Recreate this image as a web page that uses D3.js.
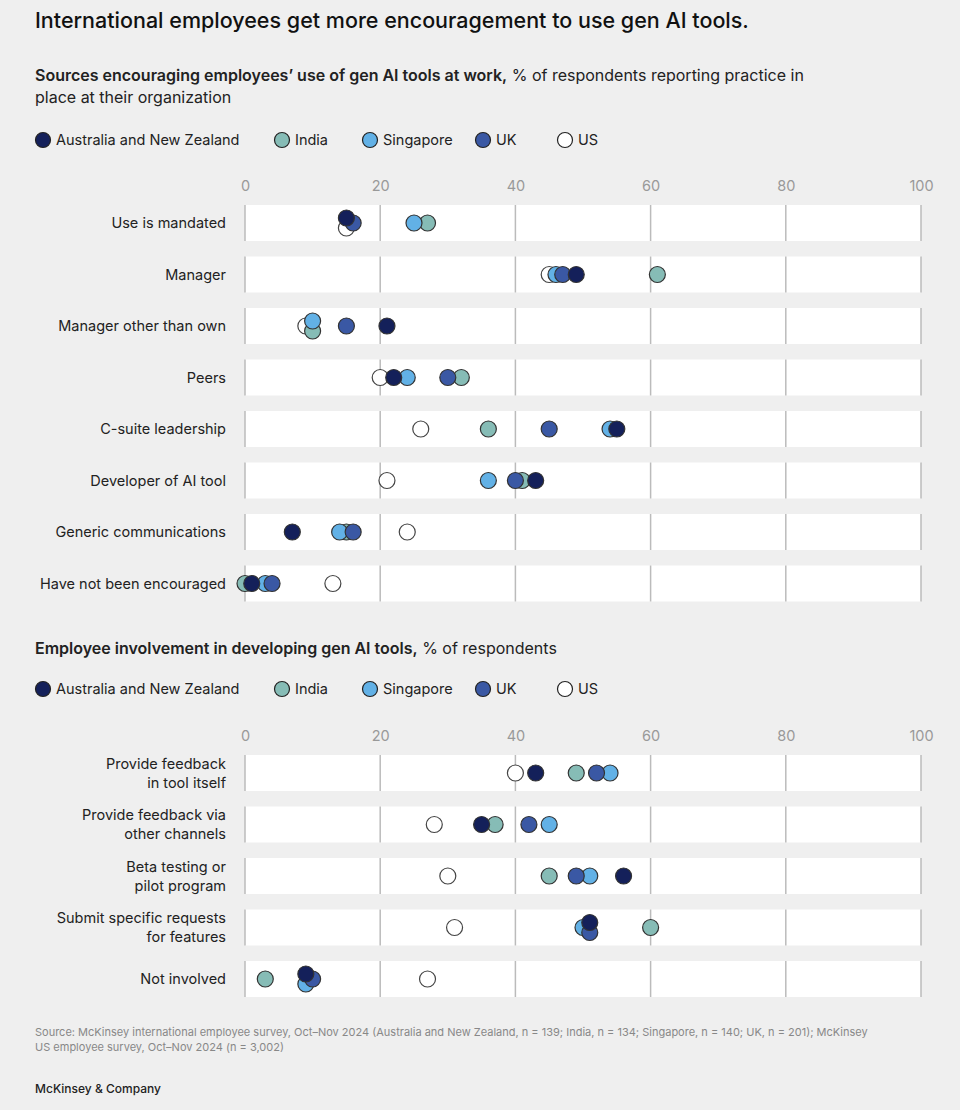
<!DOCTYPE html>
<html><head><meta charset="utf-8">
<script src="https://cdn.jsdelivr.net/npm/d3@7"></script>
<style>body{margin:0;background:#efefef;font-family:Inter,"Noto Sans",sans-serif;}</style>
</head><body>
<script>
//Series and colours
var series = ['Australia and New Zealand', 'India', 'Singapore', 'UK', 'US'];
var colors = ['#14205a', '#86bcb6', '#62b1e6', '#3a58a4', '#ffffff'];
var ticks = [0, 20, 40, 60, 80, 100];

//Chart 1 data (values per series in the order above)
var cats1 = ['Use is mandated', 'Manager', 'Manager other than own', 'Peers', 'C-suite leadership',
  'Developer of AI tool', 'Generic communications', 'Have not been encouraged'];
var anz1 = [15, 49, 21, 22, 55, 43, 7, 1];
var india1 = [27, 61, 10, 32, 36, 41, 15, 0];
var sg1 = [25, 46, 10, 24, 54, 36, 14, 3];
var uk1 = [16, 47, 15, 30, 45, 40, 16, 4];
var us1 = [15, 45, 9, 20, 26, 21, 24, 13];

//Chart 2 data
var cats2 = [['Provide feedback', 'in tool itself'], ['Provide feedback via', 'other channels'],
  ['Beta testing or', 'pilot program'], ['Submit specific requests', 'for features'], ['Not involved']];
var anz2 = [43, 35, 56, 51, 9];
var india2 = [49, 37, 45, 60, 3];
var sg2 = [54, 45, 51, 50, 9];
var uk2 = [52, 42, 49, 51, 10];
var us2 = [40, 28, 30, 31, 27];

var svg = d3.select('body').append('svg').attr('width', 960).attr('height', 1110);
var x = d3.scaleLinear().domain([0, 100]).range([245, 921]);

svg.append('text').attr('x', 35).attr('y', 28).attr('font-size', 21.5).attr('font-weight', 500)
  .attr('fill', '#111').text('International employees get more encouragement to use gen AI tools.');

function subtitle(y, bold, rest) {
  var t = svg.append('text').attr('x', 35).attr('y', y).attr('font-size', 16).attr('fill', '#222');
  t.append('tspan').attr('font-weight', 600).text(bold);
  t.append('tspan').text(rest);
  return t;
}
subtitle(81, 'Sources encouraging employees’ use of gen AI tools at work,', ' % of respondents reporting practice in');
svg.append('text').attr('x', 35).attr('y', 103).attr('font-size', 16).attr('fill', '#222')
  .text('place at their organization');
subtitle(654, 'Employee involvement in developing gen AI tools,', ' % of respondents');

function legend(y) {
  var xs = [35, 274, 362, 475, 557];
  var g = svg.append('g');
  series.forEach(function(s, i) {
    g.append('circle').attr('cx', xs[i] + 8).attr('cy', y).attr('r', 7.5)
      .attr('fill', colors[i]).attr('stroke', '#222').attr('stroke-width', 1.2);
    g.append('text').attr('x', xs[i] + 21).attr('y', y + 5).attr('font-size', 14.5).attr('fill', '#222').text(s);
  });
}
legend(140);
legend(689);

function chart(cats, vals, axisY, firstY) {
  var pitch = 51.5;
  var y = d3.scaleLinear().domain([0, 1]).range([firstY, firstY + pitch]);
  var g = svg.append('g');
  var axis = d3.axisTop(x).tickValues(ticks).tickSize(0).tickPadding(0);
  var ax = g.append('g').attr('transform', `translate(0, ${axisY})`).call(axis);
  ax.select('.domain').remove();
  ax.selectAll('text').attr('font-size', 14.5).attr('fill', '#999').attr('font-family', 'Inter,"Noto Sans",sans-serif');

  cats.forEach(function(c, i) {
    var cy = y(i);
    g.append('rect').attr('x', x(0)).attr('y', cy - 18).attr('width', x(100) - x(0)).attr('height', 36).attr('fill', '#fff');
    ticks.forEach(function(t) {
      g.append('line').attr('x1', x(t)).attr('x2', x(t)).attr('y1', cy - 18).attr('y2', cy + 18)
        .attr('stroke', '#bbb').attr('stroke-width', 1.5);
    });
    var lines = Array.isArray(c) ? c : [c];
    lines.forEach(function(l, k) {
      g.append('text').attr('x', 226).attr('y', cy + 5 + (k - (lines.length - 1) / 2) * 19)
        .attr('text-anchor', 'end').attr('font-size', 14.5).attr('fill', '#222').text(l);
    });
    //Nudge exactly tied dots up/down so both stay visible
    var row = vals.map(v => v[i]);
    var seen = {};
    var order = [4, 1, 2, 3, 0];
    order.forEach(function(s) {
      var v = row[s];
      var dy = 0;
      var ties = row.filter(w => w === v).length;
      if (ties > 1) { seen[v] = (seen[v] || 0) + 1; dy = seen[v] === 1 ? 5 : -5; }
      g.append('circle').attr('cx', x(v)).attr('cy', cy + dy).attr('r', 8)
        .attr('fill', colors[s]).attr('stroke', s === 4 ? '#444' : '#333').attr('stroke-width', 1.2);
    });
  });
}
chart(cats1, [anz1, india1, sg1, uk1, us1], 191, 223);
chart(cats2, [anz2, india2, sg2, uk2, us2], 741, 773);

svg.append('text').attr('x', 35).attr('y', 1036).attr('font-size', 11).attr('fill', '#888')
  .text('Source: McKinsey international employee survey, Oct–Nov 2024 (Australia and New Zealand, n = 139; India, n = 134; Singapore, n = 140; UK, n = 201); McKinsey');
svg.append('text').attr('x', 35).attr('y', 1051).attr('font-size', 11).attr('fill', '#888')
  .text('US employee survey, Oct–Nov 2024 (n = 3,002)');
svg.append('text').attr('x', 35).attr('y', 1093).attr('font-size', 12).attr('font-weight', 500).attr('fill', '#222')
  .text('McKinsey & Company');
</script>
</body></html>
